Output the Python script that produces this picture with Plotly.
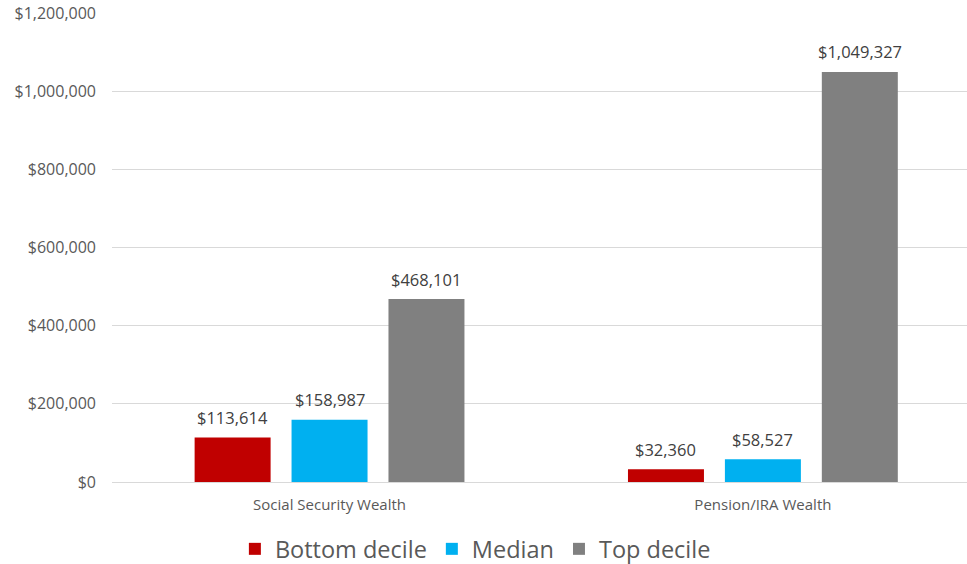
import plotly.graph_objects as go

categories = ["Social Security Wealth", "Pension/IRA Wealth"]
series_names = ["Bottom decile", "Median", "Top decile"]
bottom_decile = [113614, 32360]
median = [158987, 58527]
top_decile = [468101, 1049327]
colors = ["#C00000", "#00B0F0", "#808080"]
y_ticks = [0, 200000, 400000, 600000, 800000, 1000000, 1200000]

font_family = "'Open Sans', 'Noto Sans', sans-serif"
text_color = "#595959"
BARGAP = 0.329
BARGROUPGAP = 0.216

fig = go.Figure()
all_series = [bottom_decile, median, top_decile]
for i, (name, vals, col) in enumerate(zip(series_names, all_series, colors)):
    fig.add_trace(go.Bar(
        x=categories, y=vals, name=name, offsetgroup=str(i),
        marker=dict(color=col, line=dict(width=0)),
        hoverinfo="name+y",
    ))

fig.update_layout(
    width=967, height=564,
    margin=dict(l=112, r=0, t=13, b=82, autoexpand=False),
    paper_bgcolor="white", plot_bgcolor="white",
    barmode="group", bargap=BARGAP, bargroupgap=BARGROUPGAP,
    font=dict(family=font_family, color=text_color),
    showlegend=True,
    legend=dict(orientation="h", x=0.425, xanchor="center", y=-0.143, yanchor="middle",
                font=dict(size=23.5, color=text_color, family=font_family),
                itemwidth=30, traceorder="normal"),
    xaxis=dict(range=[-0.502, 1.471], showline=True, linecolor="#d9d9d9", linewidth=1,
               ticks="", automargin=False, ticklabelstandoff=9,
               tickfont=dict(size=15, color=text_color)),
    yaxis=dict(range=[0, 1200000], tickvals=y_ticks,
               ticktext=[f"${v:,.0f}" for v in y_ticks],
               showgrid=True, gridcolor="#d9d9d9", gridwidth=1,
               zeroline=False, ticks="", ticklen=0, automargin=False,
               ticklabelstandoff=15,
               tickfont=dict(size=16, color=text_color)),
)

# data labels above each bar, positioned from the data and the group layout
n = len(all_series)
group_w = 1 - BARGAP
slot = group_w / n
for i, vals in enumerate(all_series):
    off = -group_w / 2 + slot * (i + 0.5)
    for j, v in enumerate(vals):
        fig.add_annotation(
            x=j + off, y=v, xref="x", yref="y",
            text=f"${v:,.0f}", showarrow=False,
            yanchor="middle", yshift=20,
            font=dict(size=16.5, color="#404040", family=font_family),
        )

fig.write_html("out.html", config={"displayModeBar": False},
               post_script="document.body.style.margin='0';document.body.style.overflow='hidden';")
